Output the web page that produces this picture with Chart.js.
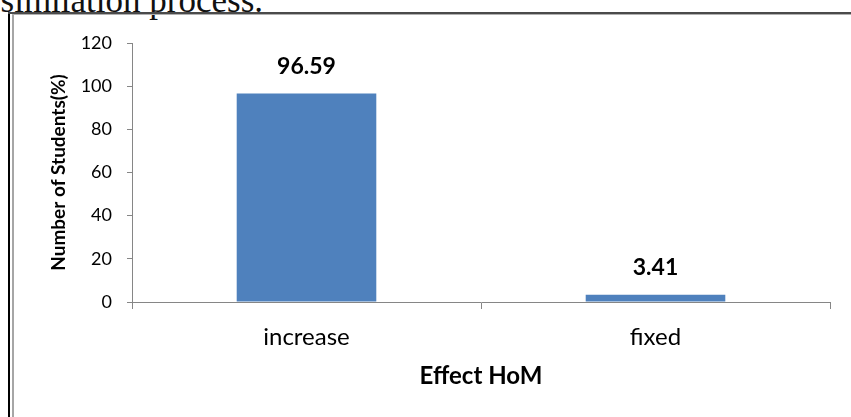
<!DOCTYPE html>
<html>
<head>
<meta charset="utf-8">
<script src="https://cdn.jsdelivr.net/npm/chart.js@4.4.1/dist/chart.umd.min.js"></script>
<style>
  html, body { margin: 0; padding: 0; background: #fff; }
  #wrap { position: relative; width: 851px; height: 417px; overflow: hidden; background: #fff; }
  #chart { position: absolute; left: 0; top: 0; }
  .prose { position: absolute; right: 588px; top: -17px; white-space: nowrap;
           font-family: "Liberation Serif", serif; font-size: 35px; line-height: 1; color: #111; }
  .edge { position: absolute; }
</style>
</head>
<body>
<div id="wrap">
  <div class="prose">assimilation process.</div>
  <canvas id="chart" width="851" height="417"></canvas>
  <div class="edge" style="left:8px; top:12px; width:2px; height:405px; background:#000;"></div>
  <div class="edge" style="left:8px; top:12px; width:843px; height:2px; background:#4a4a4a;"></div>
  <div class="edge" style="left:12px; top:14px; width:2px; height:403px; background:#a6a6a6;"></div>
  <div class="edge" style="left:12px; top:14px; width:839px; height:1px; background:#b0b0b0;"></div>
</div>
<script>
// Share of students by effect on HoM
const categories = ["increase", "fixed"];
const percentValues = [96.59, 3.41];
const yTicks = [0, 20, 40, 60, 80, 100, 120];

const axisGrey = "#868686";

// Bold value printed above each bar
const valueLabels = {
  id: "valueLabels",
  afterDatasetsDraw(chart) {
    const ctx = chart.ctx;
    const meta = chart.getDatasetMeta(0);
    ctx.save();
    ctx.font = "bold 23px Lato";
    ctx.fillStyle = "#000";
    ctx.textAlign = "center";
    ctx.textBaseline = "alphabetic";
    meta.data.forEach((bar, i) => {
      ctx.fillText(percentValues[i].toFixed(2), bar.x, bar.y - 20);
    });
    ctx.restore();
  }
};

new Chart(document.getElementById("chart"), {
  type: "bar",
  data: {
    labels: categories,
    datasets: [{
      data: percentValues,
      backgroundColor: "#4F81BD",
      borderWidth: 0,
      categoryPercentage: 1.0,
      barPercentage: 0.4
    }]
  },
  options: {
    responsive: false,
    animation: false,
    devicePixelRatio: 1,
    layout: { padding: { left: 0, right: 21, top: 43, bottom: 0 } },
    plugins: { legend: { display: false }, tooltip: { enabled: false } },
    scales: {
      y: {
        min: 0,
        max: 120,
        afterBuildTicks(scale) { scale.ticks = yTicks.map(v => ({ value: v })); },
        afterFit(scale) { scale.width = 132; },
        grid: { drawOnChartArea: false, drawTicks: true, tickLength: 5, color: axisGrey },
        border: { display: true, color: axisGrey, width: 1 },
        ticks: { padding: 15, color: "#000", font: { family: "Lato", size: 18 } },
        title: {
          display: true,
          text: "Number of Students(%)",
          color: "#000",
          font: { family: "Lato", size: 19, weight: "bold" },
          padding: { top: 47, bottom: 0 }
        }
      },
      x: {
        afterFit(scale) { scale.height = 115; },
        grid: { offset: true, drawOnChartArea: false, drawTicks: true, tickLength: 7, color: axisGrey },
        border: { display: true, color: axisGrey, width: 1 },
        ticks: { padding: 14, color: "#000", font: { family: "Lato", size: 24 } },
        title: {
          display: true,
          text: "Effect HoM",
          color: "#000",
          font: { family: "Lato", size: 24, weight: "bold" },
          padding: { top: 0, bottom: 26 }
        }
      }
    }
  },
  plugins: [valueLabels]
});
</script>
</body>
</html>
